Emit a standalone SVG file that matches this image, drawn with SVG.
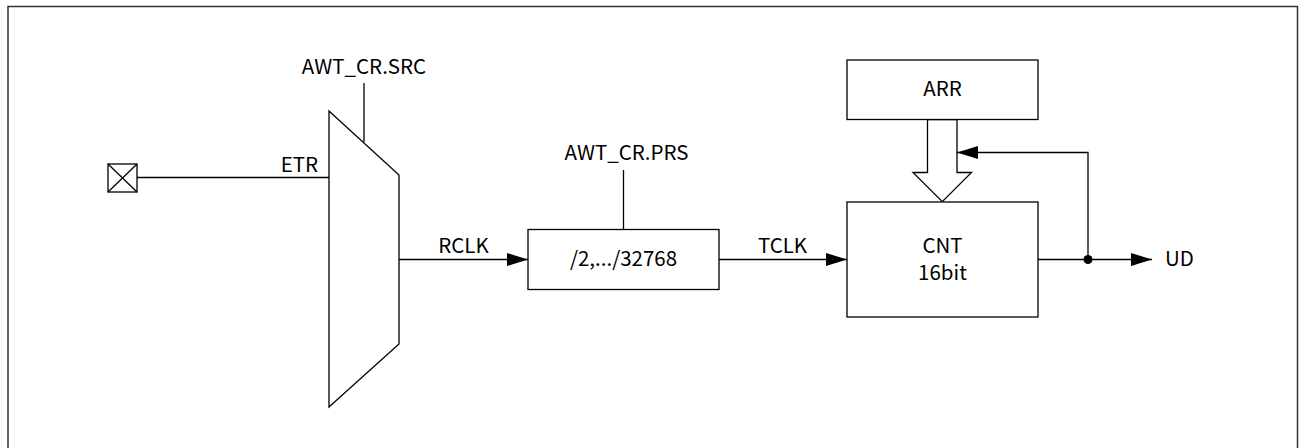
<svg xmlns="http://www.w3.org/2000/svg" width="1303" height="448" viewBox="0 0 1303 448">
<style>
.ln{stroke:#000;stroke-width:1.3;fill:none}
.bx{stroke:#000;stroke-width:1.3;fill:#fff}
.t{font-family:"Noto Sans CJK SC","Noto Sans",sans-serif;font-size:20.5px;fill:#000}
.m{text-anchor:middle}
</style>
<defs>
<marker id="ah" markerWidth="21" markerHeight="13" refX="21" refY="6.5" orient="auto" markerUnits="userSpaceOnUse">
<path d="M0,0 L21,6.5 L0,13 Z" fill="#000"/>
</marker>
</defs>
<rect x="8" y="6.5" width="1289.5" height="460" fill="none" stroke="#333" stroke-width="1.5"/>
<g id="connectors">
<line class="ln" x1="137" y1="177.5" x2="329" y2="177.5"/>
<line class="ln" x1="364" y1="83" x2="364" y2="142"/>
<line class="ln" x1="399" y1="259.5" x2="528" y2="259.5" marker-end="url(#ah)"/>
<line class="ln" x1="623.5" y1="170" x2="623.5" y2="229"/>
<line class="ln" x1="719" y1="259.5" x2="847" y2="259.5" marker-end="url(#ah)"/>
<line class="ln" x1="1038" y1="259.5" x2="1152" y2="259.5" marker-end="url(#ah)"/>
<polyline class="ln" points="1088,259.5 1088,152.5 957,152.5" marker-end="url(#ah)"/>
<circle cx="1088" cy="259.5" r="4.5" fill="#000"/>
<polygon class="bx" points="927.5,119.5 957,119.5 957,172.5 971.5,172.5 942.3,201.7 913,172.5 927.5,172.5"/>
</g>
<g id="etr-pin">
<rect class="bx" x="108" y="164" width="29" height="28"/>
<line class="ln" x1="108" y1="164" x2="137" y2="192"/>
<line class="ln" x1="137" y1="164" x2="108" y2="192"/>
</g>
<g id="mux">
<polygon class="bx" points="329,111 399,175 399,344 329,407"/>
<text class="t" x="318" y="172" text-anchor="end">ETR</text>
<text class="t m" x="364" y="74">AWT_CR.SRC</text>
</g>
<text class="t m" x="463.5" y="253">RCLK</text>
<g id="prescaler">
<rect class="bx" x="528" y="229.5" width="191" height="60"/>
<text class="t m" x="623.5" y="266">/2,.../32768</text>
<text class="t m" x="626.5" y="160">AWT_CR.PRS</text>
</g>
<text class="t m" x="782.5" y="253">TCLK</text>
<g id="arr">
<rect class="bx" x="847" y="60" width="191" height="59.5"/>
<text class="t m" x="942.5" y="96">ARR</text>
</g>
<g id="cnt">
<rect class="bx" x="847" y="202" width="191" height="115"/>
<text class="t m" x="942.5" y="253">CNT</text>
<text class="t m" x="942.5" y="280">16bit</text>
</g>
<text class="t" x="1165" y="266">UD</text>
</svg>
